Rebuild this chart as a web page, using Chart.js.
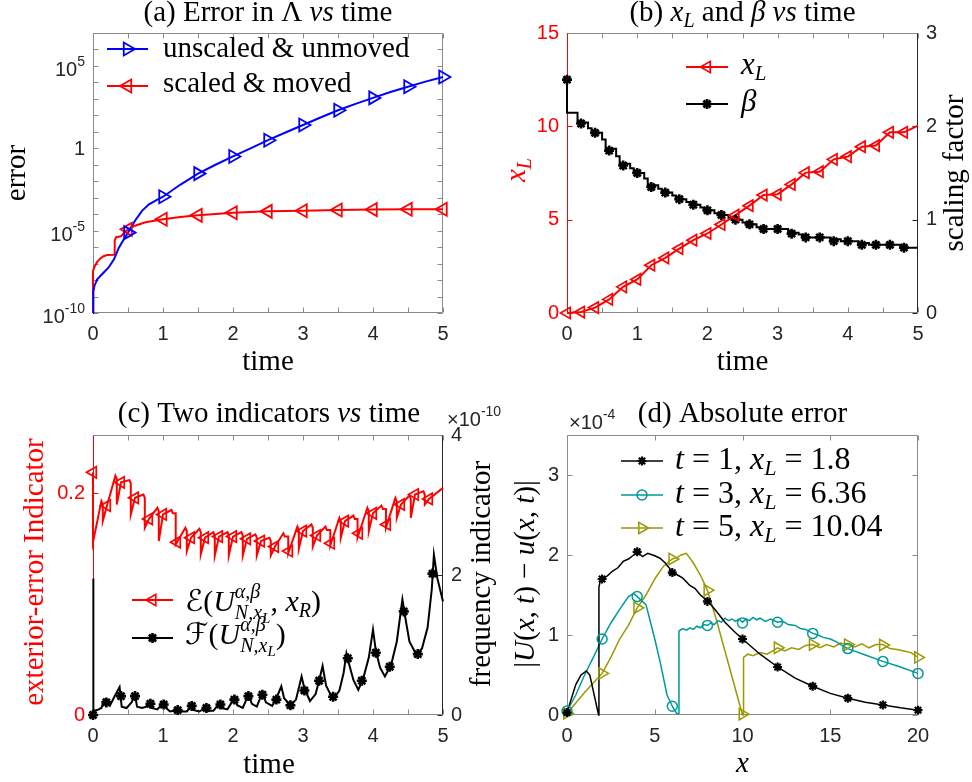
<!DOCTYPE html>
<html>
<head>
<meta charset="utf-8">
<script src="https://cdn.jsdelivr.net/npm/chart.js@4.4.1/dist/chart.umd.min.js"></script>
<style>
  html, body { margin: 0; padding: 0; background: #fff; }
  #wrap { position: relative; width: 972px; height: 782px; overflow: hidden; }
  canvas { position: absolute; }
</style>
</head>
<body>
<div id="wrap">
  <canvas id="panelA" width="486" height="391" style="left:0;top:0"></canvas>
  <canvas id="panelB" width="486" height="391" style="left:486px;top:0"></canvas>
  <canvas id="panelC" width="520" height="391" style="left:0;top:391px"></canvas>
  <canvas id="panelD" width="486" height="391" style="left:486px;top:391px"></canvas>
</div>
<script>
// ---------- (a) error in Lambda ----------
const aBlueT = [0, 0.005, 0.02, 0.06, 0.15, 0.22, 0.3, 0.37, 0.44, 0.5, 0.6, 0.7, 0.8, 0.9, 1, 1.25, 1.5, 1.75, 2, 2.25, 2.5, 2.75, 3, 3.25, 3.5, 3.75, 4, 4.25, 4.5, 4.75, 5];
const aBlueV = [1e-10, 2e-9, 4.4e-9, 1.1e-8, 2.8e-8, 5.6e-8, 1.8e-7, 9.3e-7, 3e-6, 7.6e-6, 4e-5, 1.6e-4, 4e-4, 7e-4, 1.15e-3, 6.3e-3, 2.9e-2, 0.1, 0.32, 1.0, 3.1, 9.1, 26, 74, 204, 500, 1150, 2600, 5500, 11200, 21400];
const aRedT = [0, 0, 0.02, 0.06, 0.1, 0.15, 0.2, 0.3, 0.31, 0.33, 0.4, 0.45, 0.5, 0.6, 0.75, 1, 1.25, 1.5, 2, 2.5, 3, 3.5, 4, 4.5, 5];
const aRedV = [1e-10, 3.5e-8, 6.3e-8, 1.26e-7, 2e-7, 2.8e-7, 3.3e-7, 3.5e-7, 2.5e-6, 4e-6, 4.5e-6, 8e-6, 1.2e-5, 2e-5, 3.2e-5, 4.9e-5, 6.8e-5, 8.5e-5, 1.23e-4, 1.48e-4, 1.62e-4, 1.78e-4, 1.9e-4, 2e-4, 2e-4];
const aMarkT = [0.5, 1, 1.5, 2, 2.5, 3, 3.5, 4, 4.5, 5];
const aBlueMark = [7.6e-6, 1.15e-3, 2.9e-2, 0.32, 3.1, 26, 204, 1150, 5500, 21400];
const aRedMark = [1.2e-5, 4.9e-5, 8.5e-5, 1.23e-4, 1.48e-4, 1.62e-4, 1.78e-4, 1.9e-4, 2e-4, 2e-4];
const aDecades = [-10, -9, -8, -7, -6, -5, -4, -3, -2, -1, 0, 1, 2, 3, 4, 5, 6, 7];
const aLabelExp = [-10, -5, 0, 5];

// ---------- (b) x_L and beta ----------
const bMarkT = [0, 0.2, 0.4, 0.6, 0.8, 1, 1.2, 1.4, 1.6, 1.8, 2, 2.2, 2.4, 2.6, 2.8, 3, 3.2, 3.4, 3.6, 3.8, 4, 4.2, 4.4, 4.6, 4.8];
const bXL = [0, 0.05, 0.29, 0.73, 1.4, 1.8, 2.56, 2.95, 3.45, 3.9, 4.26, 4.74, 5.24, 5.75, 6.32, 6.36, 6.89, 7.52, 7.57, 8.23, 8.38, 8.91, 8.97, 9.68, 9.68];
const bXLEnd = 10.04;
const bBeta = [2.5, 2.03, 1.93, 1.74, 1.58, 1.5, 1.35, 1.29, 1.22, 1.16, 1.1, 1.05, 1.0, 0.95, 0.9, 0.9, 0.85, 0.81, 0.81, 0.77, 0.77, 0.73, 0.73, 0.73, 0.7];
const bStepT = [0, 0, 0.15, 0.3, 0.35, 0.5, 0.55, 0.7, 0.75, 0.9, 0.95, 1.1, 1.15, 1.3, 1.35, 1.5, 1.55, 1.7, 1.75, 1.9, 1.95, 2.1, 2.15, 2.3, 2.35, 2.5, 2.55, 2.7, 2.75, 2.9, 3.15, 3.3, 3.35, 3.5, 3.75, 3.9, 4.15, 4.3, 4.75, 5];
const bStepV = [2.5, 2.145, 2.04, 1.98, 1.93, 1.86, 1.76, 1.68, 1.6, 1.55, 1.5, 1.44, 1.37, 1.33, 1.29, 1.26, 1.22, 1.19, 1.16, 1.13, 1.1, 1.07, 1.05, 1.02, 1.0, 0.97, 0.95, 0.92, 0.9, 0.9, 0.86, 0.84, 0.81, 0.81, 0.79, 0.77, 0.75, 0.73, 0.7, 0.7];

// ---------- (c) exterior-error and frequency indicators ----------
const cMarkT = bMarkT;
const cEMark = [0.219, 0.189, 0.210, 0.196, 0.177, 0.181, 0.156, 0.160, 0.160, 0.161, 0.161, 0.159, 0.157, 0.152, 0.148, 0.166, 0.162, 0.155, 0.175, 0.164, 0.182, 0.172, 0.190, 0.199, 0.195];
const cELow = [0.156, 0.175, 0.190, 0.181, 0.169, 0.157, 0.154, 0.148, 0.145, 0.144, 0.144, 0.144, 0.144, 0.144, 0.146, 0.150, 0.152, 0.153, 0.160, 0.160, 0.166, 0.169, 0.178, 0.178, 0.190];
const cEHigh = [0.193, 0.216, 0.212, 0.199, 0.187, 0.185, 0.169, 0.168, 0.165, 0.165, 0.165, 0.163, 0.160, 0.164, 0.170, 0.172, 0.170, 0.178, 0.180, 0.187, 0.189, 0.196, 0.198, 0.202, 0.205];
const cFLineT = [0, 0, 0.01, 0.06, 0.12, 0.16, 0.19, 0.24, 0.3, 0.38, 0.41, 0.48, 0.55, 0.6, 0.63, 0.7, 0.76, 0.81, 0.84, 0.92, 0.98, 1.02, 1.1, 1.16, 1.21, 1.26, 1.34, 1.41, 1.44, 1.52, 1.6, 1.64, 1.72, 1.8, 1.84, 1.92, 2.02, 2.06, 2.14, 2.22, 2.27, 2.34, 2.42, 2.47, 2.56, 2.62, 2.69, 2.73, 2.82, 2.9, 2.98, 3.02, 3.1, 3.18, 3.23, 3.28, 3.33, 3.43, 3.52, 3.58, 3.62, 3.66, 3.72, 3.79, 3.86, 3.94, 4.0, 4.04, 4.1, 4.17, 4.26, 4.34, 4.42, 4.46, 4.52, 4.62, 4.7, 4.78, 4.84, 4.87, 4.92, 5];
const cFLineV = [0, 1.95, 0.06, 0.07, 0.1, 0.22, 0.18, 0.13, 0.25, 0.4, 0.12, 0.1, 0.18, 0.28, 0.12, 0.1, 0.12, 0.2, 0.1, 0.08, 0.15, 0.12, 0.05, 0.06, 0.08, 0.05, 0.05, 0.13, 0.07, 0.05, 0.1, 0.06, 0.06, 0.16, 0.1, 0.08, 0.24, 0.14, 0.1, 0.29, 0.16, 0.12, 0.32, 0.18, 0.13, 0.24, 0.41, 0.24, 0.14, 0.22, 0.55, 0.38, 0.2, 0.3, 0.49, 0.7, 0.42, 0.22, 0.35, 0.6, 0.88, 0.72, 0.5, 0.36, 0.52, 0.82, 1.22, 0.92, 0.68, 0.55, 0.72, 1.05, 1.65, 1.4, 1.05, 0.86, 0.95, 1.25, 1.8, 2.29, 1.95, 1.62];
const cFMarkT = [0, 0.19, 0.4, 0.6, 0.82, 1.01, 1.21, 1.41, 1.62, 1.82, 2.02, 2.22, 2.42, 2.62, 2.82, 3.02, 3.23, 3.43, 3.64, 3.84, 4.04, 4.24, 4.44, 4.64, 4.85];
const cFMarkV = [0, 0.18, 0.27, 0.27, 0.16, 0.15, 0.07, 0.13, 0.1, 0.15, 0.22, 0.27, 0.29, 0.22, 0.14, 0.35, 0.49, 0.26, 0.81, 0.49, 0.89, 0.69, 1.48, 0.87, 2.02];

// ---------- (d) absolute error ----------
const dBlackT = [0, 0.5, 0.8, 1.1, 1.3, 1.8, 1.82, 1.9, 2, 2.3, 2.6, 2.9, 3.2, 3.5, 3.8, 4, 4.3, 4.6, 5, 5.3, 5.6, 6, 6.3, 6.6, 7, 7.3, 7.6, 8, 8.5, 9, 9.5, 10, 11, 12, 13, 14, 15, 16, 17, 18, 19, 20];
const dBlackV = [0.03, 0.38, 0.5, 0.55, 0.5, 0.0, 1.6, 1.68, 1.70, 1.74, 1.8, 1.84, 1.92, 1.95, 2.0, 2.04, 1.98, 2.02, 1.99, 1.96, 1.9, 1.79, 1.75, 1.71, 1.62, 1.58, 1.5, 1.43, 1.30, 1.16, 1.05, 0.95, 0.76, 0.60, 0.46, 0.36, 0.27, 0.21, 0.16, 0.125, 0.09, 0.06];
const dTealT = [0, 0.5, 1, 1.5, 2, 2.5, 3, 3.5, 3.8, 4, 4.5, 5, 5.3, 5.7, 6, 6.25, 6.36, 6.38, 6.6, 6.8, 7, 7.2, 7.4, 7.6, 7.8, 8, 8.2, 8.4, 8.6, 8.8, 9, 9.2, 9.4, 9.6, 9.8, 10, 10.2, 10.4, 10.6, 10.8, 11, 11.3, 11.6, 12, 12.3, 12.6, 13, 13.3, 13.6, 14, 14.3, 14.6, 15, 15.3, 15.6, 16, 17, 18, 19, 20];
const dTealV = [0.05, 0.25, 0.5, 0.72, 0.95, 1.15, 1.32, 1.48, 1.52, 1.48, 1.38, 0.95, 0.67, 0.25, 0.11, 0.02, 0.02, 1.05, 1.08, 1.06, 1.09, 1.07, 1.11, 1.09, 1.13, 1.12, 1.15, 1.13, 1.18, 1.16, 1.21, 1.18, 1.2, 1.17, 1.2, 1.16, 1.2, 1.18, 1.22, 1.19, 1.21, 1.17, 1.2, 1.16, 1.17, 1.13, 1.12, 1.08, 1.07, 1.02, 1.0, 0.97, 0.95, 0.92, 0.88, 0.83, 0.75, 0.67, 0.6, 0.52];
const dOliveT = [0, 1, 2, 2.5, 3, 3.5, 4, 4.5, 5, 5.5, 6, 6.3, 6.5, 6.8, 7.2, 7.6, 8, 8.5, 9, 9.5, 10, 10.04, 10.06, 10.3, 10.6, 11, 11.4, 11.8, 12, 12.4, 12.8, 13.2, 13.6, 14, 14.4, 14.8, 15.2, 15.6, 16, 16.4, 16.8, 17.2, 17.6, 18, 18.4, 18.8, 19.2, 19.6, 20];
const dOliveV = [0.02, 0.28, 0.52, 0.72, 0.95, 1.12, 1.34, 1.5, 1.7, 1.86, 1.95, 1.97, 2.0, 2.02, 1.9, 1.75, 1.56, 1.2, 0.8, 0.4, 0.0, 0.0, 0.72, 0.76, 0.74, 0.78, 0.76, 0.81, 0.84, 0.8, 0.84, 0.82, 0.87, 0.88, 0.84, 0.88, 0.85, 0.9, 0.88, 0.85, 0.89, 0.84, 0.88, 0.88, 0.83, 0.82, 0.8, 0.78, 0.72];
const dMarkX = [0, 2, 4, 6, 8, 10, 12, 14, 16, 18, 20];
const dBlackMark = [0.03, 1.70, 2.04, 1.78, 1.42, 0.95, 0.60, 0.36, 0.21, 0.125, 0.06];
const dTealMark = [0.05, 0.95, 1.48, 0.11, 1.12, 1.15, 1.16, 1.02, 0.83, 0.67, 0.52];
const dOliveMark = [0.02, 0.52, 1.34, 1.95, 1.56, 0.01, 0.84, 0.88, 0.88, 0.875, 0.72];

// ---------- styling ----------
const SERIF = '"Liberation Serif", "Times New Roman", serif';
const SANS = '"Liberation Sans", Arial, sans-serif';
const SCRIPT = '"DejaVu Serif", "DejaVu Sans", "Noto Sans", serif';
const INK = '#262626';
const BOX = '#8a8a8a';
const RED = '#ff0000', BLUE = '#0000ff', BLACK = '#000000', TEAL = '#009999', OLIVE = '#999900';
const BIG = 29, SUB = 20, SUB2 = 15;
const NONE = 'rgba(0,0,0,0)';

const xy = (xs, ys) => xs.map((x, i) => ({ x: x, y: ys[i] }));
const I = t => ({ t: t, i: true });
const Lsub = s => ({ t: 'L', i: true, s: s || SUB, dy: 6 });
const UNX = () => [I('U'), { t: 'α,β', i: true, s: SUB, dy: -13 }, { t: 'N,x', i: true, s: SUB, dy: 8, stack: true }, { t: 'L', i: true, s: SUB2, dy: 12 }];

// sawtooth of the exterior-error indicator: each tooth climbs through
// the sample marker to its crest, holds, then drops to the next trough
function buildSaw() {
  const pts = [{ x: 0, y: cEMark[0] }];
  const n = cMarkT.length;
  for (let k = 0; k < n; k++) {
    const t = cMarkT[k], lo = cELow[k], hi = cEHigh[k], m = cEMark[k];
    let lead = hi > m ? 0.12 * (m - lo) / (hi - m) : 0.06;
    lead = Math.min(0.06, Math.max(0.01, lead));
    if (k === 0) lead = 0;
    if (k > 0) pts.push({ x: t - lead, y: pts[pts.length - 1].y });
    pts.push({ x: t - lead, y: lo });
    if (k > 0) pts.push({ x: t, y: m });
    if (k < n - 1) {
      pts.push({ x: t + 0.12, y: hi });
      pts.push({ x: t + 0.14, y: hi - 0.003 });
    } else {
      pts.push({ x: 5, y: hi });
    }
  }
  return pts;
}

function lineDS(data, color, width, axis, extra) {
  return Object.assign({
    data: data, borderColor: color, borderWidth: width, pointRadius: 0,
    tension: 0, fill: false, clip: false, yAxisID: axis || 'y'
  }, extra || {});
}
function markDS(data, color, style, rot, r, axis, bw) {
  return {
    data: data, showLine: false, borderColor: color, backgroundColor: NONE,
    pointStyle: style, pointRotation: rot, pointRadius: r, pointBorderWidth: bw || 1.6,
    pointBorderColor: color, pointBackgroundColor: NONE, clip: false, yAxisID: axis || 'y'
  };
}

// draws a run of mixed upright / italic / script text
function drawRich(ctx, it) {
  const runs = it.runs.map(r => typeof r === 'string' ? { t: r } : r);
  let cur = 0, lastStart = 0, hold = 0;
  const placed = runs.map(r => {
    const font = (r.i ? 'italic ' : '') + (r.s || it.size || BIG) + 'px ' + (r.f || SERIF);
    ctx.font = font;
    const w = ctx.measureText(r.t).width;
    let x0 = cur;
    if (r.stack) { hold = cur; x0 = lastStart; }
    else if (r.m) x0 = Math.max(cur, hold);
    lastStart = x0; cur = x0 + w;
    return { t: r.t, font: font, x0: x0, dy: r.dy || 0 };
  });
  const width = Math.max(cur, hold);
  const shift = it.align === 'center' ? width / 2 : it.align === 'right' ? width : 0;
  ctx.save();
  ctx.translate(it.x, it.y);
  if (it.rot) ctx.rotate(it.rot * Math.PI / 180);
  ctx.fillStyle = it.color || BLACK;
  ctx.textBaseline = 'alphabetic';
  ctx.textAlign = 'left';
  placed.forEach(p => { ctx.font = p.font; ctx.fillText(p.t, p.x0 - shift, p.dy); });
  ctx.restore();
}

function drawMark(ctx, style, x, y, r, rot) {
  ctx.beginPath();
  if (style === 'triangle') {
    const a = rot * Math.PI / 180;
    for (let i = 0; i < 3; i++) {
      const t = a + i * 2 * Math.PI / 3;
      const px = x + Math.sin(t) * r, py = y - Math.cos(t) * r;
      if (i) ctx.lineTo(px, py); else ctx.moveTo(px, py);
    }
    ctx.closePath();
  } else if (style === 'circle') {
    ctx.arc(x, y, r, 0, 2 * Math.PI);
  } else {
    for (let i = 0; i < 4; i++) {
      const t = i * Math.PI / 4;
      ctx.moveTo(x + Math.cos(t) * r, y + Math.sin(t) * r);
      ctx.lineTo(x - Math.cos(t) * r, y - Math.sin(t) * r);
    }
  }
  ctx.stroke();
}

// box round the axes with inward ticks
function framePlugin(o) {
  return {
    id: 'frame',
    beforeDatasetsDraw(chart) {
      const ctx = chart.ctx, a = chart.chartArea;
      const L = Math.round(a.left) + 0.5, R = Math.round(a.right) - 0.5;
      const T = Math.round(a.top) + 0.5, B = Math.round(a.bottom) - 0.5;
      const len = 5;
      const seg = (c, x1, y1, x2, y2) => {
        ctx.strokeStyle = c; ctx.beginPath(); ctx.moveTo(x1, y1); ctx.lineTo(x2, y2); ctx.stroke();
      };
      ctx.save();
      ctx.lineWidth = 1;
      const xs = chart.scales.x;
      xs.ticks.forEach(t => {
        const px = Math.round(xs.getPixelForValue(t.value)) + 0.5;
        seg(o.bottom, px, B, px, B - len);
        seg(o.top, px, T, px, T + len);
      });
      const yl = chart.scales.y;
      yl.ticks.forEach(t => {
        const py = Math.round(yl.getPixelForValue(t.value)) + 0.5;
        seg(o.left, L, py, L + len, py);
        if (!o.rightScale) seg(o.right, R, py, R - len, py);
      });
      if (o.rightScale) {
        const yr = chart.scales[o.rightScale];
        yr.ticks.forEach(t => {
          const py = Math.round(yr.getPixelForValue(t.value)) + 0.5;
          seg(o.right, R, py, R - len, py);
        });
      }
      seg(o.top, L, T, R, T);
      seg(o.bottom, L, B, R, B);
      seg(o.right, R, T, R, B);
      seg(o.left, L, T, L, B);
      ctx.restore();
    }
  };
}

// legend keys and all serif / math text
function notesPlugin(keys, texts) {
  return {
    id: 'notes',
    afterDraw(chart) {
      const ctx = chart.ctx;
      keys.forEach(k => {
        ctx.save();
        ctx.strokeStyle = k.color;
        ctx.lineWidth = k.lw || 2;
        ctx.beginPath(); ctx.moveTo(k.x1, k.y); ctx.lineTo(k.x2, k.y); ctx.stroke();
        ctx.lineWidth = k.bw || 1.6;
        drawMark(ctx, k.style, (k.x1 + k.x2) / 2, k.y, k.r, k.rot || 0);
        ctx.restore();
      });
      texts.forEach(t => drawRich(ctx, t));
    }
  };
}

// decade labels of the log axis
const logLabelPlugin = {
  id: 'logLabels',
  afterDraw(chart) {
    const ctx = chart.ctx, ys = chart.scales.y;
    const right = chart.chartArea.left - 8;
    aLabelExp.forEach(e => {
      const y = ys.getPixelForValue(Math.pow(10, e));
      if (e === 0) {
        drawRich(ctx, { x: right, y: y + 7, align: 'right', color: INK, runs: [{ t: '1', f: SANS, s: 20 }] });
      } else {
        drawRich(ctx, { x: right, y: y + 10, align: 'right', color: INK,
          runs: [{ t: '10', f: SANS, s: 20 }, { t: String(e), f: SANS, s: 14, dy: -10 }] });
      }
    });
  }
};

const intLabel = v => Number.isInteger(v) ? String(v) : '';

function xScale(min, max, step, space) {
  return {
    type: 'linear', position: 'bottom', min: min, max: max,
    ticks: { stepSize: step, includeBounds: false, autoSkip: false, maxRotation: 0, padding: 9,
      color: INK, font: { family: SANS, size: 20 }, callback: intLabel },
    grid: { display: false, drawTicks: false }, border: { display: false },
    afterFit: s => { s.height = space; }
  };
}
function yScale(pos, min, max, step, space, color, fmt) {
  return {
    type: 'linear', position: pos, min: min, max: max,
    ticks: { stepSize: step, includeBounds: false, autoSkip: false, padding: 8,
      color: color, font: { family: SANS, size: 20 }, callback: fmt || (v => String(v)) },
    grid: { display: false, drawTicks: false }, border: { display: false },
    afterFit: s => { s.width = space; }
  };
}
function baseOptions(top, right, scales) {
  return {
    responsive: false, animation: false, devicePixelRatio: 1,
    layout: { padding: { top: top, right: right, left: 0, bottom: 0 }, autoPadding: false },
    scales: scales,
    plugins: { legend: { display: false }, tooltip: { enabled: false }, title: { display: false } }
  };
}

// ---------- panel (a) ----------
new Chart(document.getElementById('panelA'), {
  type: 'line',
  data: { datasets: [
    markDS(xy(aMarkT, aBlueMark), BLUE, 'triangle', 90, 7.5, 'y', 1.8),
    markDS(xy(aMarkT, aRedMark), RED, 'triangle', -90, 7.5, 'y', 1.8),
    lineDS(xy(aBlueT, aBlueV), BLUE, 2),
    lineDS(xy(aRedT, aRedV), RED, 2)
  ] },
  options: baseOptions(33, 43, {
    x: xScale(0, 5, 0.5, 78),
    y: {
      type: 'logarithmic', position: 'left', min: 1e-10, max: 1e7,
      afterBuildTicks: s => { s.ticks = aDecades.map(e => ({ value: Math.pow(10, e) })); },
      ticks: { display: false }, grid: { display: false, drawTicks: false }, border: { display: false },
      afterFit: s => { s.width = 93; }
    }
  }),
  plugins: [
    framePlugin({ top: BOX, bottom: BOX, left: BOX, right: BOX }),
    notesPlugin([
      { x1: 107, x2: 148, y: 49, color: BLUE, style: 'triangle', rot: 90, r: 7.5, bw: 1.8 },
      { x1: 107, x2: 148, y: 86, color: RED, style: 'triangle', rot: -90, r: 7.5, bw: 1.8 }
    ], [
      { x: 268, y: 21, align: 'center', runs: ['(a) Error in Λ ', I('vs'), ' time'] },
      { x: 268, y: 370, align: 'center', runs: ['time'] },
      { x: 25, y: 173, rot: -90, align: 'center', runs: ['error'] },
      { x: 163, y: 57, runs: ['unscaled & unmoved'] },
      { x: 163, y: 92, runs: ['scaled & moved'] }
    ]),
    logLabelPlugin
  ]
});

// ---------- panel (b) ----------
new Chart(document.getElementById('panelB'), {
  type: 'line',
  data: { datasets: [
    markDS(xy(bMarkT, bXL), RED, 'triangle', -90, 6.5, 'y', 1.7),
    markDS(xy(bMarkT, bBeta), BLACK, 'star', 0, 5, 'y2', 2.6),
    lineDS(xy(bMarkT.concat([5]), bXL.concat([bXLEnd])), RED, 2, 'y'),
    lineDS(xy(bStepT, bStepV), BLACK, 2, 'y2', { stepped: true })
  ] },
  options: baseOptions(33, 0, {
    x: xScale(0, 5, 0.5, 78),
    y: yScale('left', 0, 15, 5, 81, RED),
    y2: yScale('right', 0, 3, 1, 54, INK)
  }),
  plugins: [
    framePlugin({ top: BOX, bottom: BOX, left: RED, right: INK, rightScale: 'y2' }),
    notesPlugin([
      { x1: 200, x2: 242, y: 67, color: RED, style: 'triangle', rot: -90, r: 6.5, bw: 1.7 },
      { x1: 200, x2: 242, y: 104, color: BLACK, style: 'star', r: 5, bw: 2.6 }
    ], [
      { x: 256.5, y: 21, align: 'center', runs: ['(b) ', I('x'), Lsub(), ' and ', I('β'), ' ', I('vs'), ' time'] },
      { x: 256.5, y: 370, align: 'center', runs: ['time'] },
      { x: 39, y: 170, rot: -90, align: 'center', color: RED, runs: [I('x'), Lsub()] },
      { x: 477, y: 173, rot: -90, align: 'center', runs: ['scaling factor'] },
      { x: 255, y: 74, size: 31, runs: [I('x'), Lsub(21)] },
      { x: 255, y: 111, size: 31, runs: [I('β')] }
    ])
  ]
});

// ---------- panel (c) ----------
new Chart(document.getElementById('panelC'), {
  type: 'line',
  data: { datasets: [
    markDS(xy(cFMarkT, cFMarkV), BLACK, 'star', 0, 5, 'y2', 2.6),
    lineDS(xy(cFLineT, cFLineV), BLACK, 2, 'y2'),
    markDS(xy(cMarkT, cEMark), RED, 'triangle', -90, 6.5, 'y', 1.7),
    lineDS(buildSaw(), RED, 2, 'y')
  ] },
  options: baseOptions(44, 0, {
    x: xScale(0, 5, 0.5, 67),
    y: yScale('left', 0, 0.2527, 0.2, 93, RED, v => String(Math.round(v * 10) / 10)),
    y2: yScale('right', 0, 4, 2, 77, INK)
  }),
  plugins: [
    framePlugin({ top: BOX, bottom: BOX, left: RED, right: INK, rightScale: 'y2' }),
    notesPlugin([
      { x1: 132, x2: 173, y: 209, color: RED, style: 'triangle', rot: -90, r: 6.5, bw: 1.7 },
      { x1: 132, x2: 173, y: 247, color: BLACK, style: 'star', r: 5, bw: 2.6 }
    ], [
      { x: 269, y: 31, align: 'center', runs: ['(c) Two indicators ', I('vs'), ' time'] },
      { x: 447, y: 35, color: INK, runs: [{ t: '×10', f: SANS, s: 20 }, { t: '-10', f: SANS, s: 14, dy: -10 }] },
      { x: 269, y: 382, align: 'center', runs: ['time'] },
      { x: 43, y: 181, rot: -90, align: 'center', color: RED, runs: ['exterior-error Indicator'] },
      { x: 490, y: 183, rot: -90, align: 'center', runs: ['frequency indicator'] },
      { x: 185, y: 220, size: 30, runs: [{ t: 'ℰ', f: SCRIPT }, '('].concat(UNX(), [{ t: ', ', m: true }, I('x'), { t: 'R', i: true, s: SUB, dy: 6 }, ')']) },
      { x: 185, y: 253, size: 30, runs: [{ t: 'ℱ', f: SCRIPT }, '('].concat(UNX(), [{ t: ')', m: true }]) }
    ])
  ]
});

// ---------- panel (d) ----------
new Chart(document.getElementById('panelD'), {
  type: 'line',
  data: { datasets: [
    markDS(xy(dMarkX, dBlackMark), BLACK, 'star', 0, 4.5, 'y', 2.2),
    markDS(xy(dMarkX, dTealMark), TEAL, 'circle', 0, 5, 'y', 1.5),
    markDS(xy(dMarkX, dOliveMark), OLIVE, 'triangle', 90, 6.5, 'y', 1.5),
    lineDS(xy(dBlackT, dBlackV), BLACK, 1.5),
    lineDS(xy(dTealT, dTealV), TEAL, 1.5),
    lineDS(xy(dOliveT, dOliveV), OLIVE, 1.5)
  ] },
  options: baseOptions(44, 54, {
    x: xScale(0, 20, 5, 67),
    y: yScale('left', 0, 3.5, 1, 81, INK)
  }),
  plugins: [
    framePlugin({ top: BOX, bottom: BOX, left: BOX, right: BOX }),
    notesPlugin([
      { x1: 135, x2: 177, y: 70, color: BLACK, style: 'star', r: 4.5, bw: 2.2, lw: 1.5 },
      { x1: 135, x2: 177, y: 104, color: TEAL, style: 'circle', r: 5, bw: 1.5, lw: 1.5 },
      { x1: 135, x2: 177, y: 137, color: OLIVE, style: 'triangle', rot: 90, r: 6.5, bw: 1.5, lw: 1.5 }
    ], [
      { x: 256.5, y: 31, align: 'center', runs: ['(d) Absolute error'] },
      { x: 83, y: 38, color: INK, runs: [{ t: '×10', f: SANS, s: 20 }, { t: '-4', f: SANS, s: 14, dy: -10 }] },
      { x: 256.5, y: 381, align: 'center', runs: [I('x')] },
      { x: 48, y: 183, rot: -90, align: 'center', runs: ['|', I('U'), '(', I('x'), ', ', I('t'), ') − ', I('u'), '(', I('x'), ', ', I('t'), ')|'] },
      { x: 189, y: 78, size: 32, runs: [I('t'), ' = 1, ', I('x'), Lsub(22), ' = 1.8'] },
      { x: 189, y: 112, size: 32, runs: [I('t'), ' = 3, ', I('x'), Lsub(22), ' = 6.36'] },
      { x: 189, y: 145, size: 32, runs: [I('t'), ' = 5, ', I('x'), Lsub(22), ' = 10.04'] }
    ])
  ]
});
</script>
</body>
</html>
